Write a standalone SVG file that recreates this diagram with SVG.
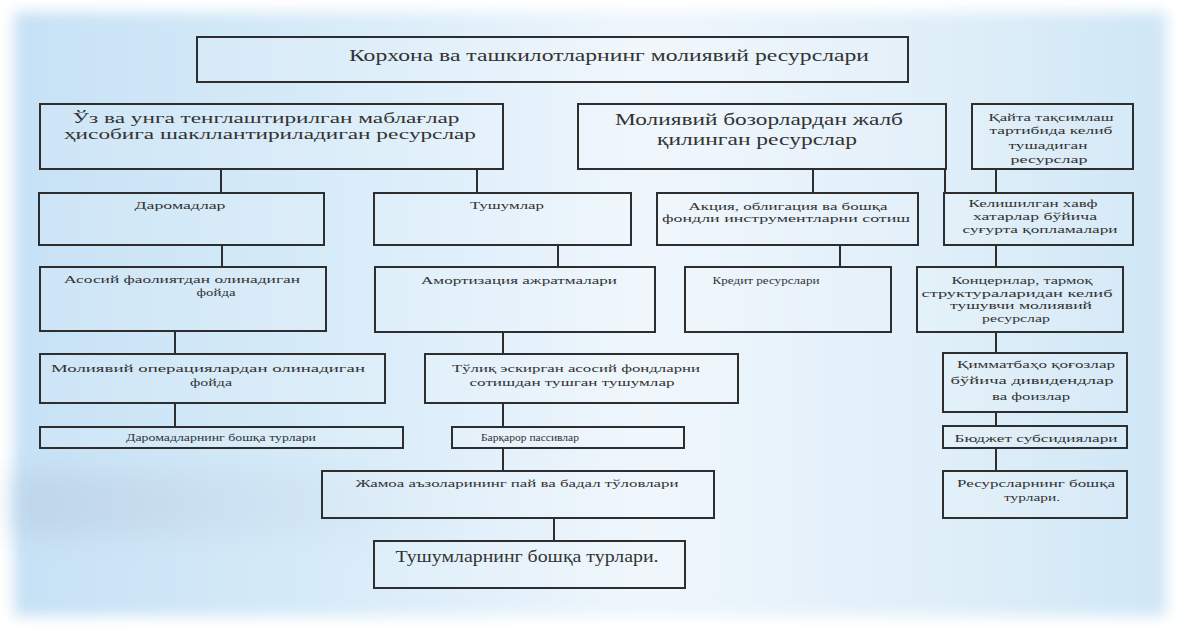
<svg xmlns="http://www.w3.org/2000/svg" width="1181" height="633" viewBox="0 0 1181 633">
  <defs>
    <linearGradient id="bgH" x1="0" y1="0" x2="1" y2="0">
      <stop offset="0" stop-color="#c6e1f5"/>
      <stop offset="0.3" stop-color="#d9ecf9"/>
      <stop offset="0.55" stop-color="#eef6fc"/>
      <stop offset="0.8" stop-color="#e0eff9"/>
      <stop offset="1" stop-color="#cfe6f6"/>
    </linearGradient>
    <linearGradient id="band" x1="0" y1="0" x2="1" y2="0">
      <stop offset="0" stop-color="#bcd2e5" stop-opacity="0.8"/>
      <stop offset="0.6" stop-color="#cadded" stop-opacity="0.35"/>
      <stop offset="1" stop-color="#e6f1fa" stop-opacity="0"/>
    </linearGradient>
    <filter id="soft" x="-5%" y="-5%" width="110%" height="110%">
      <feGaussianBlur stdDeviation="7"/>
    </filter>
    <filter id="softer" x="-20%" y="-50%" width="140%" height="200%">
      <feGaussianBlur stdDeviation="14"/>
    </filter>
  </defs>
  <style>
    .box { fill: #ffffff; fill-opacity: 0.12; stroke: #2e2e2e; stroke-width: 2; }
    .link { stroke: #2e2e2e; stroke-width: 2; fill: none; }
    .t { font-family: "Liberation Serif", "DejaVu Serif", serif; fill: #333333; text-anchor: middle; }
    .big { font-size: 17px; }
    .lead { font-size: 15px; }
    .mid { font-size: 16px; }
    .sm { font-size: 11px; }
  </style>

  <!-- backdrop -->
  <rect x="0" y="0" width="1181" height="633" fill="#ffffff"/>
  <g filter="url(#soft)">
    <rect x="14" y="12" width="1152" height="604" fill="url(#bgH)"/>
  </g>
  <rect x="14" y="472" width="520" height="64" fill="url(#band)" filter="url(#softer)"/>

  <!-- connectors -->
  <g id="connectors">
    <line class="link" x1="221" y1="169" x2="221" y2="193"/>
    <line class="link" x1="477" y1="169" x2="477" y2="193"/>
    <line class="link" x1="813" y1="169" x2="813" y2="193"/>
    <line class="link" x1="945" y1="169" x2="945" y2="193"/>
    <line class="link" x1="996" y1="169" x2="996" y2="193"/>
    <line class="link" x1="222" y1="245" x2="222" y2="267"/>
    <line class="link" x1="558" y1="245" x2="558" y2="267"/>
    <line class="link" x1="840" y1="245" x2="840" y2="267"/>
    <line class="link" x1="996" y1="245" x2="996" y2="267"/>
    <line class="link" x1="175" y1="331" x2="175" y2="354"/>
    <line class="link" x1="503" y1="332" x2="503" y2="354"/>
    <line class="link" x1="996" y1="332" x2="996" y2="353"/>
    <line class="link" x1="175" y1="403" x2="175" y2="427"/>
    <line class="link" x1="503" y1="403" x2="503" y2="427"/>
    <line class="link" x1="996" y1="412" x2="996" y2="426"/>
    <line class="link" x1="503" y1="448" x2="503" y2="471"/>
    <line class="link" x1="996" y1="448" x2="996" y2="471"/>
    <line class="link" x1="554" y1="518" x2="554" y2="541"/>
  </g>

  <g id="root">
    <rect class="box" x="197" y="37" width="711" height="45"/>
    <text class="t big" x="609" y="61" textLength="520" lengthAdjust="spacingAndGlyphs">Корхона ва ташкилотларнинг молиявий ресурслари</text>
  </g>

  <g id="own-funds">
    <rect class="box" x="40" y="104" width="463" height="65"/>
    <text class="t lead" x="266" y="123" textLength="387" lengthAdjust="spacingAndGlyphs">Ўз ва унга тенглаштирилган маблағлар</text>
    <text class="t lead" x="270" y="139" textLength="412" lengthAdjust="spacingAndGlyphs">ҳисобига шакллантириладиган ресурслар</text>
  </g>

  <g id="market-funds">
    <rect class="box" x="578" y="104" width="368" height="65"/>
    <text class="t mid" x="759" y="125" textLength="288" lengthAdjust="spacingAndGlyphs">Молиявий бозорлардан жалб</text>
    <text class="t mid" x="757" y="145" textLength="200" lengthAdjust="spacingAndGlyphs">қилинган ресурслар</text>
  </g>

  <g id="redistribution">
    <rect class="box" x="972" y="104" width="161" height="65"/>
    <text class="t sm" x="1051" y="121" textLength="125" lengthAdjust="spacingAndGlyphs">Қайта тақсимлаш</text>
    <text class="t sm" x="1051" y="134" textLength="123" lengthAdjust="spacingAndGlyphs">тартибида келиб</text>
    <text class="t sm" x="1048" y="149" textLength="79" lengthAdjust="spacingAndGlyphs">тушадиган</text>
    <text class="t sm" x="1049" y="163" textLength="77" lengthAdjust="spacingAndGlyphs">ресурслар</text>
  </g>

  <g id="income">
    <rect class="box" x="39" y="193" width="285" height="52"/>
    <text class="t sm" x="180" y="209" textLength="91" lengthAdjust="spacingAndGlyphs">Даромадлар</text>
  </g>

  <g id="receipts">
    <rect class="box" x="374" y="193" width="257" height="52"/>
    <text class="t sm" x="507" y="209" textLength="74" lengthAdjust="spacingAndGlyphs">Тушумлар</text>
  </g>

  <g id="securities">
    <rect class="box" x="657" y="193" width="261" height="52"/>
    <text class="t sm" x="788" y="210" textLength="199" lengthAdjust="spacingAndGlyphs">Акция, облигация ва бошқа</text>
    <text class="t sm" x="786" y="222" textLength="248" lengthAdjust="spacingAndGlyphs">фондли инструментларни сотиш</text>
  </g>

  <g id="insurance">
    <rect class="box" x="944" y="193" width="189" height="52"/>
    <text class="t sm" x="1033" y="207" textLength="129" lengthAdjust="spacingAndGlyphs">Келишилган хавф</text>
    <text class="t sm" x="1035" y="220" textLength="124" lengthAdjust="spacingAndGlyphs">хатарлар бўйича</text>
    <text class="t sm" x="1040" y="233" textLength="155" lengthAdjust="spacingAndGlyphs">суғурта қопламалари</text>
  </g>

  <g id="core-profit">
    <rect class="box" x="40" y="267" width="286" height="64"/>
    <text class="t sm" x="182" y="283" textLength="236" lengthAdjust="spacingAndGlyphs">Асосий фаолиятдан олинадиган</text>
    <text class="t sm" x="216" y="296" textLength="39" lengthAdjust="spacingAndGlyphs">фойда</text>
  </g>

  <g id="depreciation">
    <rect class="box" x="375" y="267" width="280" height="65"/>
    <text class="t sm" x="519" y="284" textLength="196" lengthAdjust="spacingAndGlyphs">Амортизация ажратмалари</text>
  </g>

  <g id="credit">
    <rect class="box" x="685" y="267" width="206" height="65"/>
    <text class="t sm" x="766" y="284" textLength="107" lengthAdjust="spacingAndGlyphs">Кредит ресурслари</text>
  </g>

  <g id="concerns">
    <rect class="box" x="917" y="267" width="206" height="65"/>
    <text class="t sm" x="1022" y="284" textLength="141" lengthAdjust="spacingAndGlyphs">Концернлар, тармоқ</text>
    <text class="t sm" x="1017" y="297" textLength="191" lengthAdjust="spacingAndGlyphs">структураларидан келиб</text>
    <text class="t sm" x="1021" y="309" textLength="142" lengthAdjust="spacingAndGlyphs">тушувчи молиявий</text>
    <text class="t sm" x="1016" y="322" textLength="68" lengthAdjust="spacingAndGlyphs">ресурслар</text>
  </g>

  <g id="financial-profit">
    <rect class="box" x="40" y="354" width="345" height="49"/>
    <text class="t sm" x="208" y="372" textLength="314" lengthAdjust="spacingAndGlyphs">Молиявий операциялардан олинадиган</text>
    <text class="t sm" x="211" y="386" textLength="42" lengthAdjust="spacingAndGlyphs">фойда</text>
  </g>

  <g id="asset-sales">
    <rect class="box" x="425" y="354" width="313" height="49"/>
    <text class="t sm" x="576" y="372" textLength="248" lengthAdjust="spacingAndGlyphs">Тўлиқ эскирган асосий фондларни</text>
    <text class="t sm" x="572" y="386" textLength="205" lengthAdjust="spacingAndGlyphs">сотишдан тушган тушумлар</text>
  </g>

  <g id="dividends">
    <rect class="box" x="943" y="353" width="184" height="59"/>
    <text class="t sm" x="1036" y="368" textLength="158" lengthAdjust="spacingAndGlyphs">Қимматбаҳо қоғозлар</text>
    <text class="t sm" x="1032" y="384" textLength="163" lengthAdjust="spacingAndGlyphs">бўйича дивидендлар</text>
    <text class="t sm" x="1031" y="400" textLength="78" lengthAdjust="spacingAndGlyphs">ва фоизлар</text>
  </g>

  <g id="other-income">
    <rect class="box" x="40" y="427" width="363" height="21"/>
    <text class="t sm" x="221" y="441" textLength="190" lengthAdjust="spacingAndGlyphs">Даромадларнинг бошқа турлари</text>
  </g>

  <g id="stable-liabilities">
    <rect class="box" x="452" y="427" width="232" height="21"/>
    <text class="t sm" x="530" y="441" textLength="98" lengthAdjust="spacingAndGlyphs">Барқарор пассивлар</text>
  </g>

  <g id="budget">
    <rect class="box" x="943" y="426" width="184" height="22"/>
    <text class="t sm" x="1036" y="442" textLength="163" lengthAdjust="spacingAndGlyphs">Бюджет субсидиялари</text>
  </g>

  <g id="member-fees">
    <rect class="box" x="322" y="471" width="392" height="47"/>
    <text class="t sm" x="517" y="487" textLength="323" lengthAdjust="spacingAndGlyphs">Жамоа аъзоларининг пай ва бадал тўловлари</text>
  </g>

  <g id="other-resources">
    <rect class="box" x="943" y="471" width="184" height="47"/>
    <text class="t sm" x="1036" y="487" textLength="158" lengthAdjust="spacingAndGlyphs">Ресурсларнинг бошқа</text>
    <text class="t sm" x="1032" y="501" textLength="56" lengthAdjust="spacingAndGlyphs">турлари.</text>
  </g>

  <g id="other-receipts">
    <rect class="box" x="374" y="541" width="311" height="47"/>
    <text class="t mid" x="527" y="562" textLength="263" lengthAdjust="spacingAndGlyphs">Тушумларнинг бошқа турлари.</text>
  </g>
</svg>
